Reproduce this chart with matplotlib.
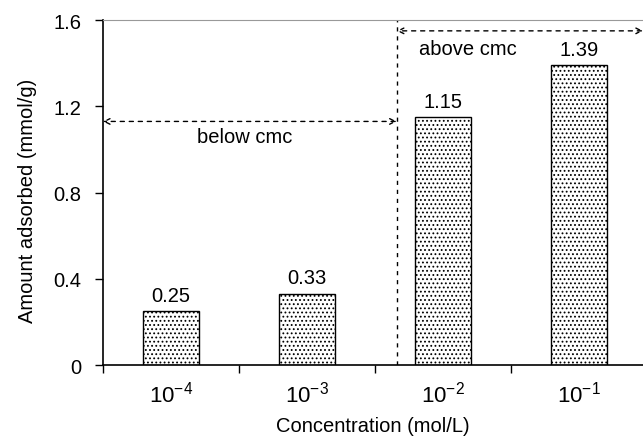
import matplotlib.pyplot as plt
import numpy as np

plt.rcParams['font.family'] = ['Liberation Sans', 'DejaVu Sans']
plt.rcParams['mathtext.fontset'] = 'custom'
plt.rcParams['mathtext.rm'] = 'Liberation Sans'
plt.rcParams['mathtext.default'] = 'regular'
plt.rcParams['hatch.linewidth'] = 0.8

# data
concentrations = ['$10^{-4}$', '$10^{-3}$', '$10^{-2}$', '$10^{-1}$']
adsorbed = [0.25, 0.33, 1.15, 1.39]
value_labels = ['0.25', '0.33', '1.15', '1.39']
cmc_pos = 1.66          # vertical dashed line position (category units)
below_level = 1.13
above_level = 1.55

FS = 14.5
dash = (0, (3, 3.5))

fig = plt.figure(figsize=(6.43, 4.39), dpi=100)
ax = fig.add_axes([0.160, 0.166, 0.84, 0.786])

x = np.arange(len(adsorbed))
ax.bar(x, adsorbed, width=0.41, color='white', edgecolor='black',
       linewidth=1.0, hatch='....')

for xi, v, lab in zip(x, adsorbed, value_labels):
    ax.text(xi, v + 0.03, lab, ha='center', va='bottom', fontsize=FS)

ax.set_xlim(-0.5, 3.47)
ax.set_ylim(0, 1.6)
ax.set_yticks([0, 0.4, 0.8, 1.2, 1.6])
ax.set_yticklabels(['0', '0.4', '0.8', '1.2', '1.6'])

# labels at categories, tick marks between them
ax.set_xticks(x)
ax.set_xticklabels(concentrations, fontsize=16)
ax.set_xticks([-0.5, 0.5, 1.5, 2.5], minor=True)
ax.tick_params(axis='x', which='major', length=0, pad=11)
ax.tick_params(axis='x', which='minor', length=6, direction='out', width=1)
ax.tick_params(axis='y', length=6, direction='out', width=1, labelsize=FS,
               pad=9.5)

ax.spines['right'].set_visible(False)
ax.spines['top'].set_color('#999999')
ax.spines['left'].set_linewidth(1.2)
ax.spines['bottom'].set_linewidth(1.2)

ax.set_xlabel('Concentration (mol/L)', fontsize=FS, labelpad=7)
ax.set_ylabel('Amount adsorbed (mmol/g)', fontsize=FS)
ax.yaxis.set_label_coords(-0.122, 0.48)

# cmc markers
ax.plot([cmc_pos, cmc_pos], [0, 1.6], ls=dash, color='black', lw=1)
ax.annotate('', xy=(-0.5, below_level), xytext=(cmc_pos, below_level),
            arrowprops=dict(arrowstyle='<->', ls=dash, lw=1,
                            shrinkA=0, shrinkB=0))
ax.annotate('', xy=(cmc_pos, above_level), xytext=(3.47, above_level),
            arrowprops=dict(arrowstyle='<->', ls=dash, lw=1,
                            shrinkA=0, shrinkB=0), annotation_clip=False)
ax.text(0.19, below_level - 0.025, 'below cmc', ha='left', va='top', fontsize=FS)
ax.text(1.82, above_level - 0.04, 'above cmc', ha='left', va='top', fontsize=FS)

plt.savefig('out.png', dpi=100)
